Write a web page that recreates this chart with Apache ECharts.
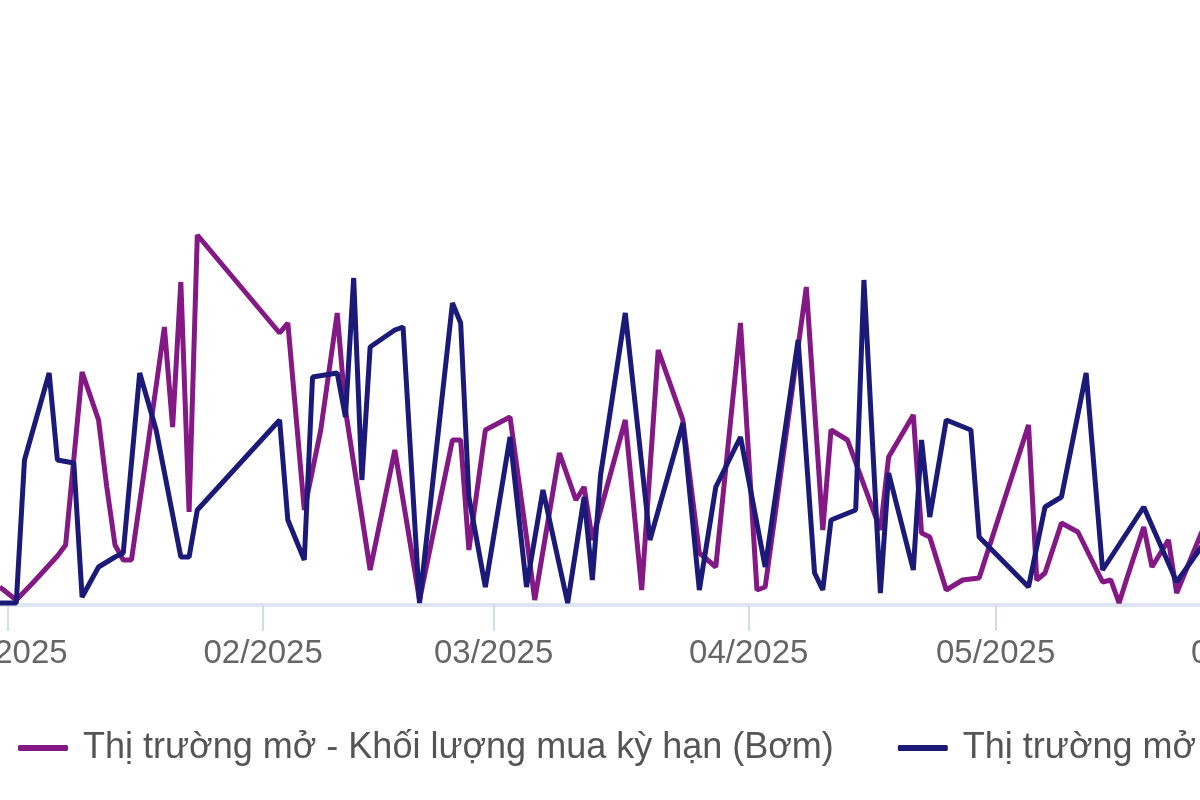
<!DOCTYPE html>
<html>
<head>
<meta charset="utf-8">
<script src="https://cdn.jsdelivr.net/npm/echarts@6/dist/echarts.min.js"></script>
<style>
html,body{margin:0;padding:0;width:1200px;height:800px;overflow:hidden;background:#fff;}
#c{position:absolute;left:-60px;top:0;width:1900px;height:800px;filter:blur(0.5px);}
</style>
</head>
<body>
<div id="c"></div>
<script>
// Series names
const seriesNames = [
  'Thị trường mở - Khối lượng mua kỳ hạn (Bơm)',
  'Thị trường mở - Khối lượng bán kỳ hạn (Hút)'
];
// Purple series: dates and values
const buyDates = ['2024-12-31','2025-01-02','2025-01-04','2025-01-06','2025-01-07','2025-01-08','2025-01-10','2025-01-12','2025-01-13','2025-01-14','2025-01-15','2025-01-16','2025-01-18','2025-01-20','2025-01-21','2025-01-22','2025-01-23','2025-01-24',
 '2025-02-03','2025-02-04','2025-02-06','2025-02-08','2025-02-10','2025-02-11','2025-02-14','2025-02-17','2025-02-20','2025-02-24','2025-02-25','2025-02-26','2025-02-28',
 '2025-03-03','2025-03-05','2025-03-06','2025-03-09','2025-03-11','2025-03-12','2025-03-13','2025-03-17','2025-03-19','2025-03-21','2025-03-24','2025-03-26','2025-03-28','2025-03-31',
 '2025-04-02','2025-04-03','2025-04-08','2025-04-10','2025-04-11','2025-04-13','2025-04-17','2025-04-18','2025-04-21','2025-04-22','2025-04-23','2025-04-25','2025-04-27','2025-04-29',
 '2025-05-05','2025-05-06','2025-05-07','2025-05-09','2025-05-11','2025-05-14','2025-05-15','2025-05-16','2025-05-17','2025-05-19','2025-05-20','2025-05-22','2025-05-23','2025-05-26','2025-05-28'];
const buyValues = [1.8,0.5,2.2,4.0,4.9,6.0,23.3,18.5,11.8,6.0,4.5,4.5,16.0,27.8,17.8,32.3,9.3,37.0,
 27.2,28.2,9.5,17.5,29.2,19.5,3.5,15.5,0.5,16.5,16.5,5.5,17.5,
 18.8,6.8,0.5,15.2,10.5,11.8,6.5,18.5,1.5,25.5,18.5,5.2,3.8,28.2,
 1.5,1.8,31.8,7.5,17.5,16.5,7.5,14.8,19.0,7.2,6.8,1.5,2.5,2.7,
 18.0,2.5,3.2,8.2,7.3,2.3,2.5,0.2,2.8,7.8,3.8,6.5,1.2,7.2,9.0];
// Navy series: dates and values
const sellDates = ['2024-12-31','2025-01-02','2025-01-03','2025-01-06','2025-01-07','2025-01-09','2025-01-10','2025-01-12','2025-01-14','2025-01-15','2025-01-17','2025-01-19','2025-01-22','2025-01-23','2025-01-24',
 '2025-02-03','2025-02-04','2025-02-06','2025-02-07','2025-02-10','2025-02-11','2025-02-12','2025-02-13','2025-02-14','2025-02-17','2025-02-18','2025-02-20','2025-02-24','2025-02-25','2025-02-26','2025-02-28',
 '2025-03-03','2025-03-05','2025-03-07','2025-03-10','2025-03-12','2025-03-13','2025-03-14','2025-03-17','2025-03-20','2025-03-24','2025-03-26','2025-03-28','2025-03-31',
 '2025-04-03','2025-04-07','2025-04-09','2025-04-10','2025-04-11','2025-04-14','2025-04-15','2025-04-17','2025-04-18','2025-04-21','2025-04-22','2025-04-23','2025-04-25','2025-04-28','2025-04-29',
 '2025-05-05','2025-05-07','2025-05-09','2025-05-12','2025-05-14','2025-05-19','2025-05-23','2025-05-26','2025-05-28'];
const sellValues = [0.2,0.2,14.5,23.2,14.5,14.2,0.8,3.8,4.8,5.2,23.2,17.5,4.8,4.8,9.5,
 18.5,8.5,4.5,22.8,23.2,18.8,32.7,12.5,25.8,27.5,27.8,0.2,30.2,28.2,10.8,1.8,
 16.8,1.8,11.5,0.2,10.8,2.5,13.0,29.2,6.5,18.2,1.5,11.8,16.8,
 3.8,26.5,3.2,1.5,8.5,9.5,32.5,1.2,13.2,3.5,16.5,8.8,18.5,17.5,6.8,
 1.8,9.8,10.8,23.2,3.5,9.8,2.3,5.8,8.0];

const DAY = 86400000;
const jan1 = new Date(2025, 0, 1).getTime();
const chart = echarts.init(document.getElementById('c'));
const fontFam = '"Liberation Sans", Arial, sans-serif';
chart.setOption({
  animation: false,
  color: ['#841884', '#1b1a78'],
  grid: { left: 10, right: 550, top: 205, bottom: 195 },
  legend: {
    left: 73, top: 725, width: 1800,
    itemWidth: 50, itemHeight: 6, itemGap: 64,
    icon: 'roundRect',
    textStyle: { fontSize: 36, color: '#555', fontFamily: fontFam, padding: [0, 0, 0, 10] },
    data: seriesNames
  },
  xAxis: {
    type: 'time',
    min: jan1 - 7.05 * DAY,
    max: jan1 + 155.77 * DAY,
    minInterval: 28 * DAY,
    maxInterval: 31 * DAY,
    axisLine: { lineStyle: { color: '#dfe5f3', width: 4 } },
    axisTick: { show: true, length: 26, lineStyle: { color: '#d3dbee', width: 2 } },
    axisLabel: {
      margin: 32, fontSize: 33, color: '#666', fontFamily: fontFam,
      formatter: v => echarts.time.format(v, '{MM}/{yyyy}', false)
    },
    splitLine: { show: false }
  },
  yAxis: { type: 'value', min: 0, max: 40, show: false, splitLine: { show: false } },
  series: [
    { name: seriesNames[0], type: 'line', showSymbol: false, lineStyle: { width: 5 },
      data: buyDates.map((d, i) => [d, buyValues[i]]) },
    { name: seriesNames[1], type: 'line', showSymbol: false, lineStyle: { width: 5 },
      data: sellDates.map((d, i) => [d, sellValues[i]]) }
  ]
});
</script>
</body>
</html>
